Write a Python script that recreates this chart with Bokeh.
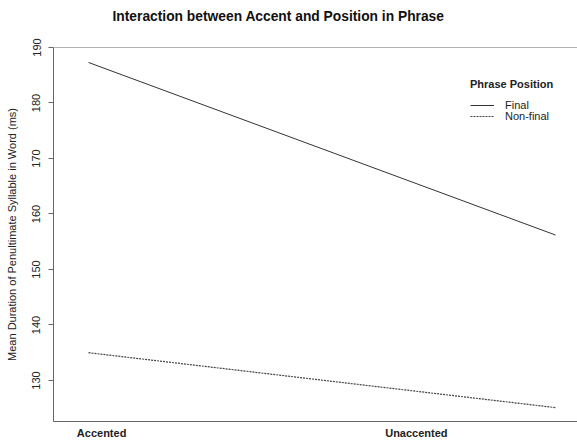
from bokeh.plotting import figure
from bokeh.models import (Range1d, FixedTicker, Legend, LegendItem, Title, Span)
from bokeh.embed import file_html
from bokeh.resources import INLINE

# data
title_text = "Interaction between Accent and Position in Phrase"
accent_levels = ["Accented", "Unaccented"]
level_x = [1, 2]
final_means = [187.3, 156.2]
nonfinal_means = [135.0, 125.1]
y_ticks = [130, 140, 150, 160, 170, 180, 190]
label_x = [1.028, 1.702]

FONT = "Liberation Sans"
INK = "#333333"
y_top = y_ticks[-1]

p = figure(width=577, height=444, output_backend="svg", toolbar_location=None,
           x_range=Range1d(0.925, 2.047), y_range=Range1d(122.6, y_top),
           min_border_left=53, min_border_right=0, min_border_top=47,
           min_border_bottom=23)
p.grid.visible = False
p.outline_line_color = None
p.background_fill_color = "white"

# spacer between title and frame
p.add_layout(Title(text=" ", text_font_size="1px", standoff=21), "above")

p.title.text = title_text
p.title.align = "left"
p.title.offset = 59
p.title.standoff = 0
p.title.text_font = FONT
p.title.text_font_size = "13.8px"
p.title.text_font_style = "bold"
p.title.text_color = "#111111"

r1 = p.line(level_x, final_means, line_color=INK, line_width=1)
r2 = p.line(level_x, nonfinal_means, line_color="#444444", line_width=1.2,
            line_dash="2 1")

# y axis
ya = p.yaxis[0]
ya.ticker = FixedTicker(ticks=y_ticks)
ya.major_label_orientation = "vertical"
ya.major_label_text_font = FONT
ya.major_label_text_font_size = "11px"
ya.major_label_text_color = "#222222"
ya.major_label_standoff = 8
ya.axis_line_color = "#666666"
ya.major_tick_line_color = "#666666"
ya.major_tick_in = 0
ya.major_tick_out = 5
ya.minor_tick_line_color = None
ya.axis_label = "Mean Duration of Penultimate Syllable in Word (ms)"
ya.axis_label_text_font = FONT
ya.axis_label_text_font_size = "11px"
ya.axis_label_text_font_style = "normal"
ya.axis_label_text_color = "#222222"
ya.axis_label_standoff = 12

# x axis
xa = p.xaxis[0]
xa.ticker = FixedTicker(ticks=label_x)
xa.major_label_overrides = {label_x[i]: accent_levels[i] for i in range(2)}
xa.major_label_text_font = FONT
xa.major_label_text_font_size = "11px"
xa.major_label_text_font_style = "bold"
xa.major_label_text_color = "#222222"
xa.major_label_standoff = 5
xa.axis_line_color = "#666666"
xa.major_tick_line_color = None
xa.major_tick_out = 0
xa.major_tick_in = 0
xa.minor_tick_line_color = None

# top frame line
p.add_layout(Span(location=y_top, dimension="width", line_color="#666666",
                  line_width=1))

common = dict(label_text_font=FONT, label_text_font_size="11px",
              label_text_color="#222222", border_line_color=None,
              background_fill_alpha=0, padding=0, margin=0, spacing=0,
              glyph_width=24, glyph_height=12, label_height=12,
              label_standoff=11)
legend1 = Legend(items=[LegendItem(label="Final", renderers=[r1])],
                 title="Phrase Position", location=(417, 310),
                 title_text_font=FONT, title_text_font_size="11px",
                 title_text_font_style="bold", title_text_color="#222222",
                 title_standoff=9, **common)
legend2 = Legend(items=[LegendItem(label="Non-final", renderers=[r2])],
                 location=(417, 299), **common)
p.add_layout(legend1)
p.add_layout(legend2)

open("out.html", "w").write(file_html(p, INLINE))
